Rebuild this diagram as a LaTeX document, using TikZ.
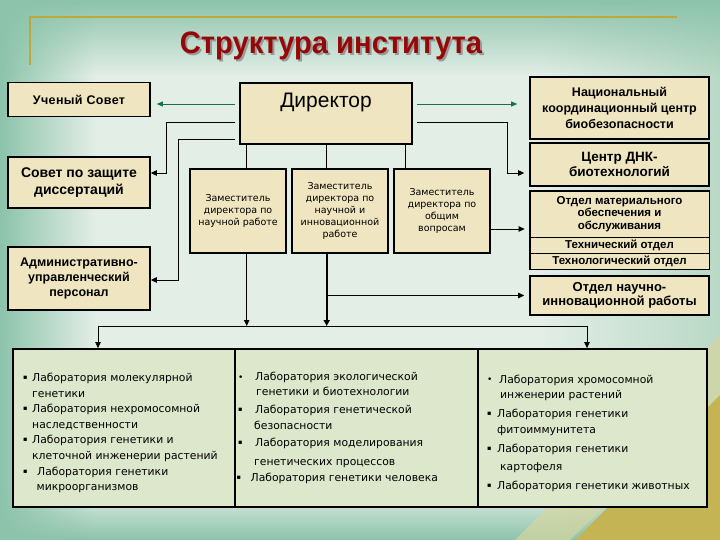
\documentclass[tikz,border=0pt]{standalone}
\usepackage{fontspec}
\setmainfont{Liberation Sans}
\newfontfamily\dvs{DejaVu Sans}
\usetikzlibrary{arrows.meta,fadings,calc}

\definecolor{boxfill}{RGB}{239,229,192}
\definecolor{labfill}{RGB}{221,231,204}
\definecolor{titlered}{RGB}{150,8,8}
\definecolor{goldline}{RGB}{188,168,60}
\definecolor{arrgreen}{RGB}{25,110,75}
\definecolor{bgdark}{RGB}{140,195,170}
\definecolor{bgmid}{RGB}{226,238,230}
\definecolor{bgright}{RGB}{185,216,198}
\definecolor{olive}{RGB}{196,180,84}
\definecolor{olivelight}{RGB}{214,214,160}

\newcommand\sqb[1]{\makebox[#1][l]{\raisebox{2pt}{\fontsize{6.5}{7}\selectfont ▪}}}
\newcommand\rdb[1]{\makebox[#1][l]{\raisebox{0.5pt}{\fontsize{9}{10}\selectfont •}}}

\begin{document}
\begin{tikzpicture}[x=1pt,y=-1pt,
  box/.style={draw=black, line width=1.6pt, fill=boxfill, inner sep=0pt, align=center},
  thinbox/.style={draw=black, line width=0.7pt, fill=boxfill, inner sep=0pt, align=center},
  labbox/.style={draw=black, line width=1.8pt, fill=labfill, inner sep=0pt},
  deptext/.style={font=\dvs\fontsize{9.5}{12.3}\selectfont},
  labtext/.style={font=\dvs\fontsize{10.8}{15.6}\selectfont, align=left, inner sep=0pt, anchor=north west},
  titlefont/.style={font=\bfseries\fontsize{31}{34}\selectfont, xscale=0.94},
  conn/.style={draw=black, line width=0.8pt},
  arr/.style={conn, -{Triangle[length=6pt,width=5.5pt]}},
  garr/.style={draw=arrgreen, line width=0.8pt, -{Triangle[length=6pt,width=5pt]}}
]
\useasboundingbox (0,0) rectangle (720,540);

% background
\fill[bgmid] (0,0) rectangle (720,540);
\shade[left color=bgdark, right color=bgmid] (0,0) rectangle (95,540);
\shade[left color=bgmid, right color=bgright] (540,0) rectangle (720,540);
\fill[bgdark, path fading=south] (0,0) rectangle (720,75);
\fill[bgdark, path fading=north] (0,490) rectangle (720,540);
\fill[olivelight, opacity=0.7] (515,540) -- (720,335) -- (720,395) -- (570,540) -- cycle;
\fill[olive] (575,540) -- (720,395) -- (720,540) -- cycle;

% title rule
\draw[goldline, line width=2pt] (30,65) -- (30,17) -- (677,17);

% title
\node[titlefont, text=black!40] (titleshadow) at (333,47.5) {Структура института};
\node[titlefont, text=titlered] (title) at (331,45.5) {Структура института};

% left column
\node[box, font=\bfseries\fontsize{12.5}{14}\selectfont\addfontfeature{LetterSpace=3}, minimum width=142, minimum height=34] (uch) at (79,99.7) {Ученый Совет};
\node[box, font=\bfseries\fontsize{14}{17}\selectfont, minimum width=142, minimum height=51] (sov) at (79,182.5) {Совет по защите\\диссертаций};
\node[box, font=\bfseries\fontsize{12.5}{15}\selectfont, minimum width=142, minimum height=63] (adm) at (79,278.5) {Административно-\\управленческий\\персонал};

% director
\node[box, font=\fontsize{21}{24}\selectfont, minimum width=172, minimum height=61, text height=15pt, text depth=27pt] (dir) at (326,113.5) {Директор};

% right column
\node[box, font=\bfseries\fontsize{12.5}{16}\selectfont, minimum width=179, minimum height=62] (nat) at (619.5,108) {Национальный\\координационный центр\\биобезопасности};
\node[box, font=\bfseries\fontsize{13.5}{15}\selectfont, minimum width=179, minimum height=43] (dnk) at (619.5,164.5) {Центр ДНК-\\биотехнологий};
\node[thinbox, font=\bfseries\fontsize{11.5}{12.6}\selectfont, minimum width=179, minimum height=46] (otd1) at (619.5,214) {Отдел материального\\обеспечения и\\обслуживания};
\node[thinbox, font=\bfseries\fontsize{11.5}{12.4}\selectfont, minimum width=179, minimum height=16] (otd2) at (619.5,245) {Технический отдел};
\node[thinbox, font=\bfseries\fontsize{11.5}{12.4}\selectfont, minimum width=179, minimum height=16] (otd3) at (619.5,261) {Технологический отдел};
\draw[line width=1.6pt] (otd1.north west) rectangle (otd3.south east);
\node[box, font=\bfseries\fontsize{13}{14.5}\selectfont, minimum width=179, minimum height=39] (nauch) at (619.5,295.5) {Отдел научно-\\инновационной работы};

% deputies
\node[box, deptext, minimum width=96, minimum height=84] (dep1) at (238,211) {Заместитель\\директора по\\научной работе};
\node[box, font=\dvs\fontsize{9.5}{11.8}\selectfont, minimum width=96, minimum height=84] (dep2) at (340,211) {Заместитель\\директора по\\научной и\\инновационной\\работе};
\node[box, deptext, minimum width=96, minimum height=84] (dep3) at (442,211) {Заместитель\\директора по\\общим\\вопросам};

% labs
\node[labbox, minimum width=222, minimum height=158] (lab1) at (124,428) {};
\node[labbox, minimum width=243, minimum height=158] (lab2) at (356.5,428) {};
\node[labbox, minimum width=229, minimum height=158] (lab3) at (592.5,428) {};

\node[labtext] (lt1) at (23,373) {\sqb{9pt}Лаборатория молекулярной\\
\hspace*{9pt}генетики\\
\sqb{9pt}Лаборатория нехромосомной\\
\hspace*{9pt}наследственности\\
\sqb{9pt}Лаборатория генетики и\\
\hspace*{9pt}клеточной инженерии растений\\
\sqb{14pt}Лаборатория генетики\\
\hspace*{13.5pt}микроорганизмов};

\node[labtext, font=\dvs\fontsize{10.8}{15.4}\selectfont] (lt2) at (238,372) {\rdb{17pt}Лаборатория экологической\\
\hspace*{18pt}генетики и биотехнологии\\[1.8pt]
\sqb{17pt}Лаборатория генетической\\[0.5pt]
\hspace*{16pt}безопасности\\[2.5pt]
\sqb{17pt}Лаборатория моделирования\\[3pt]
\hspace*{16pt}генетических процессов\\[0.3pt]
\hspace*{-1.5pt}\sqb{14pt}Лаборатория генетики человека};

\node[labtext, font=\dvs\fontsize{10.8}{15.4}\selectfont] (lt3) at (487,374.5) {\rdb{12pt}Лаборатория хромосомной\\[0.5pt]
\hspace*{13pt}инженерии растений\\[3.3pt]
\sqb{10pt}Лаборатория генетики\\[0.8pt]
\hspace*{10pt}фитоиммунитета\\[2.8pt]
\sqb{10pt}Лаборатория генетики\\[3pt]
\hspace*{13pt}картофеля\\[3.5pt]
\sqb{10pt}Лаборатория генетики животных};

% helper coordinates
\coordinate (xA) at (246.7,0);
\coordinate (xB) at (326.7,0);
\coordinate (xC) at (405.3,0);
\coordinate (gy) at (0,104);
\coordinate (bL) at (98,326);
\coordinate (bR) at (587,326);

% green arrows
\draw[garr, shorten <=4pt, shorten >=6pt] (dir.west |- gy) -- (uch.east |- gy);
\draw[garr, shorten <=4pt, shorten >=12pt] (dir.east |- gy) -- (nat.west |- gy);

% director to side units
\draw[arr, shorten <=4pt] ([yshift=-8.5pt]dir.west) -- ++(-73,0) |- ([yshift=9.5pt]sov.east);
\draw[arr, shorten <=4pt] ([yshift=-25.5pt]dir.west) -- ++(-61,0) |- ([yshift=-1.5pt]adm.east);
\draw[arr, shorten <=4pt, shorten >=5pt] ([yshift=-8.5pt]dir.east) -- ++(95,0) |- ([yshift=-8.5pt]dnk.west);

% director to deputies
\draw[conn] (dir.south -| xA) -- (dep1.north -| xA);
\draw[conn] (dir.south -| xB) -- (dep2.north -| xB);
\draw[conn] (dir.south -| xC) -- (dep3.north -| xC);

% deputies onward
\draw[arr, shorten >=5pt] ([yshift=-18pt]dep3.east) -- ([yshift=-18pt]dep3.east -| otd1.west);
\draw[arr] (dep1.south -| xA) -- (bL -| xA);
\draw[conn, line width=2pt, -{Triangle[length=6pt,width=6pt]}] (dep2.south -| xB) -- (bL -| xB);
\draw[arr, shorten >=5pt] (nauch.west -| xB) -- (nauch.west);

% bus to labs
\draw[conn] (bL) -- (bR);
\draw[arr] (bL) -- (lab1.north -| bL);
\draw[arr] (bR) -- (lab3.north -| bR);
\end{tikzpicture}
\end{document}
